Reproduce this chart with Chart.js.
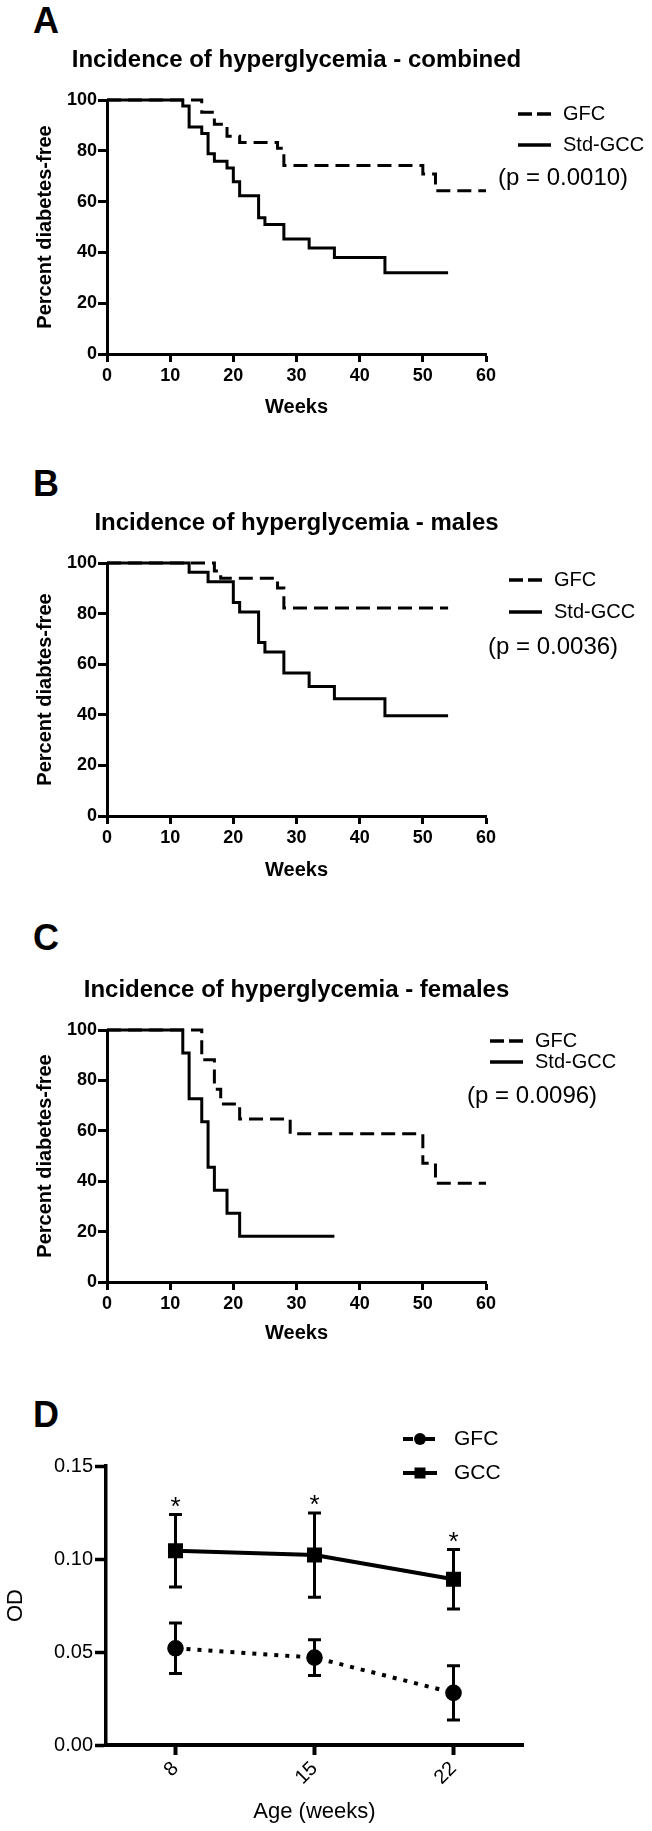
<!DOCTYPE html>
<html>
<head>
<meta charset="utf-8">
<script src="https://cdn.jsdelivr.net/npm/chart.js@4.4.1/dist/chart.umd.min.js"></script>
<style>
  html, body { margin: 0; padding: 0; background: #fff; }
  body { width: 652px; height: 1831px; position: relative; overflow: hidden; }
  canvas { position: absolute; left: 0; }
  .letter { position: absolute; left: 33px; font: bold 36px/36px "Liberation Sans", Arial, sans-serif; color: #000; }
</style>
</head>
<body>
<div class="letter" style="top:3px">A</div>
<div class="letter" style="top:466px">B</div>
<div class="letter" style="top:920px">C</div>
<div class="letter" style="top:1397px">D</div>
<canvas id="chartA" width="652" height="420" style="top:0px"></canvas>
<canvas id="chartB" width="652" height="443" style="top:440px"></canvas>
<canvas id="chartC" width="652" height="466" style="top:880px"></canvas>
<canvas id="chartD" width="652" height="491" style="top:1340px"></canvas>
<script>
// ---- data ----
// A: combined
const aGfcWeeks = [0, 15, 17, 19, 21, 27, 28, 50, 52, 60];
const aGfcPct   = [100, 95.2, 90.5, 85.7, 83.3, 81.0, 74.2, 70.9, 64.3, 64.3];
const aStdWeeks = [0, 12, 13, 15, 16, 17, 19, 20, 21, 24, 25, 28, 32, 36, 44, 54];
const aStdPct   = [100, 97.6, 89.4, 86.8, 78.8, 75.9, 73.2, 67.8, 62.3, 53.6, 51.0, 45.3, 41.7, 38.0, 32.0, 32.0];
// B: males
const bGfcWeeks = [0, 17, 18, 27, 28, 54];
const bGfcPct   = [100, 96.8, 94.0, 90.1, 82.2, 82.2];
const bStdWeeks = [0, 13, 16, 20, 21, 24, 25, 28, 32, 36, 44, 54];
const bStdPct   = [100, 96.3, 92.6, 84.4, 80.6, 68.6, 64.8, 56.5, 51.2, 46.3, 39.6, 39.6];
// C: females
const cGfcWeeks = [0, 15, 17, 18, 21, 29, 50, 52, 60];
const cGfcPct   = [100, 88.2, 76.5, 70.6, 64.7, 58.8, 47.1, 39.2, 39.2];
const cStdWeeks = [0, 12, 13, 15, 16, 17, 19, 21, 36];
const cStdPct   = [100, 90.9, 72.7, 63.6, 45.5, 36.4, 27.3, 18.2, 18.2];
// D: OD by age
const ageLabels = ['8', '15', '22'];
const gfcMean = [0.052, 0.047, 0.028];
const gfcSem  = [0.0136, 0.0096, 0.0146];
const gccMean = [0.1044, 0.1021, 0.0891];
const gccSem  = [0.0195, 0.0226, 0.0160];
const sigMarks = ['*', '*', '*'];

const FONT = '"Liberation Sans", Arial, sans-serif';
Chart.defaults.font.family = FONT;
Chart.defaults.color = '#000';

const toXY = (xs, ys) => xs.map((x, i) => ({ x: x, y: ys[i] }));

// title, legend and p value drawn around the plot area
const panelText = {
  id: 'panelText',
  afterDraw(chart, args, opts) {
    if (!opts.rows) return;
    const { ctx, chartArea } = chart;
    ctx.save();
    ctx.fillStyle = '#000';
    ctx.strokeStyle = '#000';
    if (opts.title) {
      // drawn by hand so it is not squeezed to the plot width
      ctx.font = 'bold 24px ' + FONT;
      ctx.textAlign = 'center';
      ctx.textBaseline = 'alphabetic';
      ctx.fillText(opts.title, (chartArea.left + chartArea.right) / 2, chartArea.top - opts.titleGap);
    }
    ctx.textAlign = 'left';
    ctx.textBaseline = 'middle';
    chart.data.datasets.forEach((ds, i) => {
      const y = chartArea.top + opts.rows[i];
      const x0 = chartArea.right + opts.sampleX;
      ctx.beginPath();
      ctx.lineWidth = opts.lineWidth;
      ctx.setLineDash(ds.legendDash || []);
      ctx.moveTo(x0, y);
      ctx.lineTo(x0 + opts.sampleLen, y);
      ctx.stroke();
      ctx.setLineDash([]);
      if (opts.markers) {
        const cx = x0 + opts.sampleLen / 2;
        ctx.beginPath();
        if (ds.pointStyle === 'rect') {
          ctx.rect(cx - 5.5, y - 5.5, 11, 11);
        } else {
          ctx.arc(cx, y, 6, 0, Math.PI * 2);
        }
        ctx.fill();
      }
      ctx.font = opts.fontSize + 'px ' + FONT;
      ctx.fillText(ds.label, chartArea.right + opts.textX, y);
    });
    if (opts.note) {
      ctx.font = '24px ' + FONT;
      ctx.fillText(opts.note, chartArea.right + opts.noteX, chartArea.top + opts.noteY);
    }
    ctx.restore();
  }
};

function kmChart(id, o) {
  const h = o.height;
  return new Chart(document.getElementById(id), {
    type: 'line',
    data: {
      datasets: [
        { label: 'GFC', data: toXY(o.gfcWeeks, o.gfcPct), borderDash: [14, 7], legendDash: [14, 5] },
        { label: 'Std-GCC', data: toXY(o.stdWeeks, o.stdPct) }
      ]
    },
    options: {
      responsive: false,
      animation: false,
      layout: { padding: { left: 0, right: 166, top: o.plotTop, bottom: 0 } },
      elements: {
        line: { borderColor: '#000', borderWidth: 3, stepped: true, fill: false, tension: 0 },
        point: { radius: 0 }
      },
      datasets: { line: { clip: false } },
      plugins: {
        legend: { display: false },
        tooltip: { enabled: false },
        panelText: Object.assign({ title: o.title, titleGap: 33 }, o.legend)
      },
      scales: {
        x: {
          type: 'linear', min: 0, max: 60,
          ticks: { stepSize: 10, padding: 3, font: { size: 18, weight: 'bold' } },
          grid: { drawOnChartArea: false, tickLength: 8, tickWidth: 3, tickColor: '#000' },
          border: { width: 3, color: '#000' },
          title: { display: true, text: 'Weeks', font: { size: 20, weight: 'bold' }, padding: { top: 0, bottom: 1 } },
          afterFit: s => { s.height = h - o.plotBottom; }
        },
        y: {
          min: 0, max: 100,
          ticks: { stepSize: 20, padding: 1, font: { size: 18, weight: 'bold' } },
          grid: { drawOnChartArea: false, tickLength: 9, tickWidth: 3, tickColor: '#000' },
          border: { width: 3, color: '#000' },
          title: { display: true, text: o.yTitle, font: { size: 20, weight: 'bold' }, padding: { top: 33.5, bottom: 0 } },
          afterFit: s => { s.width = 107; }
        }
      }
    },
    plugins: [panelText]
  });
}

kmChart('chartA', {
  title: 'Incidence of hyperglycemia - combined', yTitle: 'Percent diabetes-free',
  gfcWeeks: aGfcWeeks, gfcPct: aGfcPct, stdWeeks: aStdWeeks, stdPct: aStdPct,
  height: 420, plotTop: 100, plotBottom: 354,
  legend: { rows: [14, 45], sampleX: 32, sampleLen: 33, textX: 77, lineWidth: 3.5, fontSize: 20,
            note: '(p = 0.0010)', noteX: 12, noteY: 78 }
});

kmChart('chartB', {
  title: 'Incidence of hyperglycemia - males', yTitle: 'Percent diabtes-free',
  gfcWeeks: bGfcWeeks, gfcPct: bGfcPct, stdWeeks: bStdWeeks, stdPct: bStdPct,
  height: 443, plotTop: 123, plotBottom: 376,
  legend: { rows: [17, 49], sampleX: 23, sampleLen: 33, textX: 68, lineWidth: 3.5, fontSize: 20,
            note: '(p = 0.0036)', noteX: 2, noteY: 84 }
});

kmChart('chartC', {
  title: 'Incidence of hyperglycemia - females', yTitle: 'Percent diabetes-free',
  gfcWeeks: cGfcWeeks, gfcPct: cGfcPct, stdWeeks: cStdWeeks, stdPct: cStdPct,
  height: 466, plotTop: 150, plotBottom: 402,
  legend: { rows: [11, 32], sampleX: 4, sampleLen: 33, textX: 49, lineWidth: 3.5, fontSize: 20,
            note: '(p = 0.0096)', noteX: -19, noteY: 66 }
});

// error bars and significance stars for panel D
const errorBars = {
  id: 'errorBars',
  afterDatasetsDraw(chart, args, opts) {
    const { ctx } = chart;
    const yScale = chart.scales.y;
    ctx.save();
    ctx.strokeStyle = '#000';
    ctx.fillStyle = '#000';
    ctx.lineWidth = 3;
    chart.data.datasets.forEach((ds, di) => {
      const meta = chart.getDatasetMeta(di);
      meta.data.forEach((pt, i) => {
        const top = yScale.getPixelForValue(ds.data[i] + ds.errors[i]);
        const bot = yScale.getPixelForValue(ds.data[i] - ds.errors[i]);
        ctx.beginPath();
        ctx.moveTo(pt.x, top); ctx.lineTo(pt.x, bot);
        ctx.moveTo(pt.x - 6.5, top); ctx.lineTo(pt.x + 6.5, top);
        ctx.moveTo(pt.x - 6.5, bot); ctx.lineTo(pt.x + 6.5, bot);
        ctx.stroke();
        if (ds.marks && ds.marks[i]) {
          ctx.font = '26px ' + FONT;
          ctx.textAlign = 'center';
          ctx.textBaseline = 'alphabetic';
          ctx.fillText(ds.marks[i], pt.x, top + opts.starGap);
        }
      });
    });
    ctx.restore();
  }
};

new Chart(document.getElementById('chartD'), {
  type: 'line',
  data: {
    labels: ageLabels,
    datasets: [
      { label: 'GFC', data: gfcMean, errors: gfcSem, borderDash: [4, 7], borderWidth: 4,
        pointStyle: 'circle', pointRadius: 6.3, legendDash: [10, 12] },
      { label: 'GCC', data: gccMean, errors: gccSem, marks: sigMarks, borderWidth: 4,
        pointStyle: 'rect', pointRadius: 7.8 }
    ]
  },
  options: {
    responsive: false,
    animation: false,
    layout: { padding: { left: 0, right: 129, top: 126, bottom: 0 } },
    elements: {
      line: { borderColor: '#000', fill: false, tension: 0 },
      point: { backgroundColor: '#000', borderColor: '#000', borderWidth: 0 }
    },
    datasets: { line: { clip: false } },
    plugins: {
      legend: { display: false },
      tooltip: { enabled: false },
      panelText: { rows: [-27, 7], sampleX: -120, sampleLen: 34, textX: -69, lineWidth: 4, fontSize: 21, markers: true },
      errorBars: { starGap: 0 }
    },
    scales: {
      x: {
        type: 'category', offset: true,
        ticks: { minRotation: 45, maxRotation: 45, padding: 2, font: { size: 20 } },
        grid: { drawOnChartArea: false, offset: false, tickLength: 10, tickWidth: 4, tickColor: '#000' },
        border: { width: 4, color: '#000' },
        title: { display: true, text: 'Age (weeks)', font: { size: 22 }, padding: { top: 0, bottom: 5.8 } },
        afterFit: s => { s.height = 86; }
      },
      y: {
        min: 0, max: 0.15,
        ticks: { stepSize: 0.05, padding: 2, font: { size: 20 }, callback: v => v.toFixed(2) },
        grid: { drawOnChartArea: false, tickLength: 11, tickWidth: 3.5, tickColor: '#000' },
        border: { width: 3.5, color: '#000' },
        title: { display: true, text: 'OD', font: { size: 22 }, padding: { top: 2.8, bottom: 0 } },
        afterFit: s => { s.width = 106; }
      }
    }
  },
  plugins: [errorBars, panelText]
});
</script>
</body>
</html>
